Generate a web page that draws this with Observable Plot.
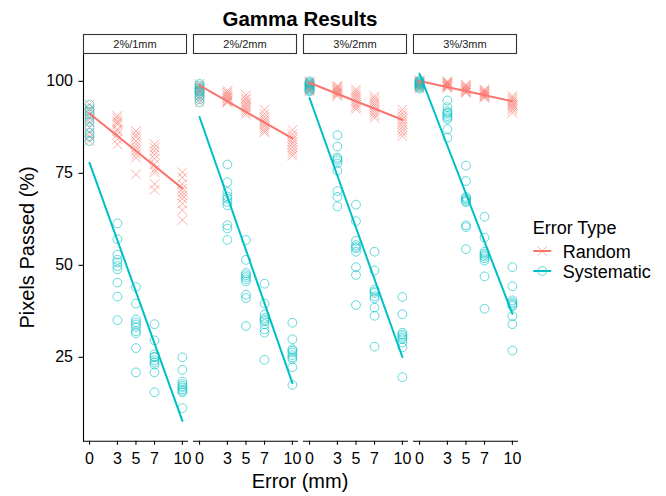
<!DOCTYPE html>
<html><head><meta charset="utf-8">
<script src="https://cdn.jsdelivr.net/npm/d3@7"></script>
<script src="https://cdn.jsdelivr.net/npm/@observablehq/plot@0.6"></script>
<style>
body{margin:0;background:#fff;font-family:"Liberation Sans",Arial,sans-serif;}
#wrap{position:relative;width:666px;height:496px;overflow:hidden;background:#fff;}
#wrap svg{position:absolute;left:0;top:0;}
</style></head><body><div id="wrap"></div>
<script>
// ---- data ----
const panels = ["2%/1mm", "2%/2mm", "3%/2mm", "3%/3mm"];
const errors = [0, 3, 5, 7, 10];
const seriesNames = ["Random", "Systematic"];
const seriesColors = ["#F8766D", "#00BFC4"];
const xTicks = [0, 3, 5, 7, 10];
const yTicks = [25, 50, 75, 100];
const titleText = "Gamma Results";
const xTitle = "Error (mm)";
const yTitle = "Pixels Passed (%)";
const legendTitle = "Error Type";

// values per error level [0, 3, 5, 7, 10]
const random_2_1mm = [
  [93.7, 92.5, 91.8, 91, 90, 89, 87.5, 86, 85, 83.8],
  [90.6, 90, 89.2, 88.8, 88.3, 87, 86.5, 85.6, 84.3, 82.9],
  [86.5, 85.6, 84.9, 83.8, 82.9, 82, 81.1, 80.2, 79.3, 74.7],
  [82.9, 82, 81.1, 80.1, 79, 77.5, 76, 75.3, 72.1, 70.5],
  [75.3, 73.9, 72.1, 70.8, 69.9, 69, 68.1, 66.8, 65, 62.3]
];
const systematic_2_1mm = [
  [93.7, 92.5, 91.8, 91, 90, 89, 87.5, 86, 85, 83.8],
  [61.4, 57.1, 52.9, 51.5, 50.8, 49.8, 48.9, 45.3, 41.5, 35.1],
  [44.1, 39.6, 35.3, 34.5, 33.9, 33.2, 32.1, 31.5, 27.5, 20.9],
  [34, 29.6, 25.8, 25.2, 25, 24.2, 23.6, 23, 20.9, 15.5],
  [25, 21.6, 18.4, 17.7, 17.2, 16.8, 16.3, 15.9, 15.5, 11.2]
];
const random_2_2mm = [
  [99.3, 98.8, 98.3, 97.9, 97.5, 97.2, 96.8, 96, 95.2, 94.3],
  [97.5, 97, 96.6, 96.2, 95.8, 95.5, 95.2, 94.8, 94.5, 94.2],
  [96.3, 95.5, 95, 94.3, 93.8, 93.2, 92.8, 92.2, 91.6, 91],
  [92.3, 91.2, 90.3, 89.6, 89, 88.4, 87.8, 87.2, 86.6, 86.1],
  [86.8, 85.7, 84.9, 84.2, 83.5, 82.9, 82.1, 81.3, 80.5, 79.8]
];
const systematic_2_2mm = [
  [99.3, 98.8, 98.3, 97.9, 97.5, 97.2, 96.8, 96, 95.2, 94.3],
  [77.4, 72.6, 69.9, 68.7, 68.1, 67.2, 66.3, 60.9, 60, 56.9],
  [56.9, 51.5, 47.9, 47.3, 46.8, 46.2, 45.6, 42, 41.1, 33.5],
  [45, 39.6, 36.6, 35.7, 35.2, 34.8, 34, 32.6, 31.7, 24.3],
  [34.4, 29.9, 27.2, 26.8, 26.3, 25.6, 25, 24.5, 22.3, 17.5]
];
const random_3_2mm = [
  [100, 99.7, 99.4, 99.1, 98.8, 98.5, 98.2, 97.9, 97.6, 97.3],
  [98.8, 98.5, 98.2, 97.9, 97.6, 97.3, 97, 96.7, 96.4, 96],
  [97.8, 97.2, 96.6, 96, 95.4, 94.8, 94.2, 93.6, 93, 92.4],
  [96, 95.3, 94.6, 94, 93.4, 92.8, 92.2, 91.5, 90.8, 90.1],
  [92.3, 91.4, 90.6, 89.8, 89.1, 88.4, 87.6, 86.8, 86, 85.1]
];
const systematic_3_2mm = [
  [100, 99.7, 99.4, 99.1, 98.8, 98.5, 98.2, 97.9, 97.6, 97.3],
  [85.4, 82.3, 79.3, 78.9, 78.4, 77.7, 75.7, 70.2, 68.6, 66],
  [66.5, 62, 56.7, 55.5, 55, 54.6, 53.7, 49.5, 47.4, 39.2],
  [53.7, 48.6, 43.4, 42.9, 42.5, 41.6, 41, 38.5, 36.3, 27.9],
  [41.4, 36.7, 31.7, 31.2, 30.8, 30.3, 29.9, 29, 27.7, 19.6]
];
const random_3_3mm = [
  [100.3, 100, 99.8, 99.6, 99.4, 99.2, 99, 98.7, 98.4, 98],
  [100, 99.8, 99.6, 99.4, 99.2, 99, 98.8, 98.6, 98.4, 98.2],
  [99.1, 98.8, 98.6, 98.3, 98, 97.8, 97.6, 97.3, 97.1, 96.9],
  [97.8, 97.5, 97.2, 97, 96.7, 96.5, 96.2, 96, 95.8, 95.5],
  [96, 95.5, 95, 94.5, 94, 93.6, 93.2, 92.7, 92.2, 91.5]
];
const systematic_3_3mm = [
  [100.3, 100, 99.8, 99.6, 99.4, 99.2, 99, 98.7, 98.4, 98],
  [94.8, 93, 91.9, 91.5, 91.2, 90.6, 90.2, 89.7, 87, 84.7],
  [77.1, 72.9, 68.6, 68.2, 67.9, 67.5, 67.2, 60.9, 60.4, 54.4],
  [63.2, 57.5, 53.7, 53.2, 52.8, 52.4, 51.9, 51.3, 47, 38.2],
  [49.5, 44.3, 40.5, 40, 39.6, 39.2, 38.9, 36.2, 34, 26.8]
];

const byPanel = [
  [random_2_1mm, systematic_2_1mm],
  [random_2_2mm, systematic_2_2mm],
  [random_3_2mm, systematic_3_2mm],
  [random_3_3mm, systematic_3_3mm]
];

const rows = [];
panels.forEach((p, i) => {
  seriesNames.forEach((s, k) => {
    byPanel[i][k].forEach((vals, j) => {
      vals.forEach(v => rows.push({panel: p, series: s, error: errors[j], value: v}));
    });
  });
});

// ---- chart ----
const W = 666, H = 496;
const font = "'Liberation Sans', Arial, sans-serif";
const xDomain = [-0.65, 10.55];
const yDomain = [2.2, 107.3];

const chart = Plot.plot({
  width: W,
  height: H,
  marginTop: 54,
  marginBottom: 55.3,
  marginLeft: 82,
  marginRight: 148.8,
  style: {fontFamily: font, color: "#000", background: "transparent"},
  fx: {domain: panels, paddingInner: 0.0544, paddingOuter: 0, axis: null, label: null},
  x: {domain: xDomain, label: null},
  y: {domain: yDomain, label: null},
  color: {domain: seriesNames, range: seriesColors},
  symbol: {domain: seriesNames, range: ["times", "circle"]},
  marks: [
    Plot.frame({anchor: "left", facetAnchor: "left", stroke: "#000", strokeWidth: 1.1}),
    Plot.frame({anchor: "bottom", stroke: "#000", strokeWidth: 1.1}),
    Plot.axisY({ticks: yTicks, tickSize: 4.5, tickPadding: 6, fontSize: 16, label: null, stroke: "#000", strokeWidth: 1.1}),
    Plot.axisX({ticks: xTicks, tickSize: 4, tickPadding: 7, fontSize: 16, label: null, stroke: "#000", strokeWidth: 1.1}),
    Plot.dot(rows, {x: "error", y: "value", fx: "panel", stroke: "series", symbol: "series", r: 4.4, strokeWidth: 1, strokeOpacity: 0.6, fill: "none"}),
    Plot.linearRegressionY(rows, {x: "error", y: "value", fx: "panel", stroke: "series", ci: 0, strokeWidth: 2})
  ]
});

const wrap = document.getElementById("wrap");
wrap.appendChild(chart);

// ---- overlay: title, strips, axis titles, legend ----
const fx = chart.scale("fx");
const left0 = fx.apply(panels[0]);
const right1 = fx.apply(panels[panels.length - 1]) + fx.bandwidth;
const cx = (left0 + right1) / 2;

const ov = d3.select(wrap).append("svg").attr("width", W).attr("height", H)
  .style("font-family", font);

ov.append("text").attr("x", cx).attr("y", 25.5).attr("text-anchor", "middle")
  .attr("font-weight", "bold").attr("font-size", 20.5).text(titleText);

panels.forEach(p => {
  const x = fx.apply(p);
  ov.append("rect").attr("x", x + 0.5).attr("y", 34.5).attr("width", fx.bandwidth - 1).attr("height", 19)
    .attr("fill", "#fff").attr("stroke", "#333").attr("stroke-width", 1.1);
  ov.append("text").attr("x", x + fx.bandwidth / 2).attr("y", 48).attr("text-anchor", "middle")
    .attr("font-size", 11).attr("fill", "#1a1a1a").text(p);
});

ov.append("text").attr("x", cx).attr("y", 488).attr("text-anchor", "middle")
  .attr("font-size", 20).text(xTitle);
ov.append("text").attr("transform", `translate(34,${(54 + 440.7) / 2}) rotate(-90)`)
  .attr("text-anchor", "middle").attr("font-size", 20).text(yTitle);

// legend
const lgX = 532.7;
ov.append("text").attr("x", lgX).attr("y", 234).attr("font-size", 18).text(legendTitle);
const keyY = [251, 271];
const sym = {times: d3.symbolTimes, circle: d3.symbolCircle};
seriesNames.forEach((s, i) => {
  const cy = keyY[i], kx = lgX + 9.5;
  ov.append("line").attr("x1", kx - 9).attr("x2", kx + 9).attr("y1", cy).attr("y2", cy)
    .attr("stroke", seriesColors[i]).attr("stroke-width", 2);
  const type = i === 0 ? d3.symbolTimes : d3.symbolCircle;
  ov.append("path").attr("d", d3.symbol(type, Math.PI * 4.4 * 4.4)())
    .attr("transform", `translate(${kx},${cy})`).attr("fill", "none")
    .attr("stroke", seriesColors[i]).attr("stroke-opacity", 0.6);
  ov.append("text").attr("x", lgX + 30).attr("y", cy + 6.5).attr("font-size", 18).text(s);
});
</script></body></html>
